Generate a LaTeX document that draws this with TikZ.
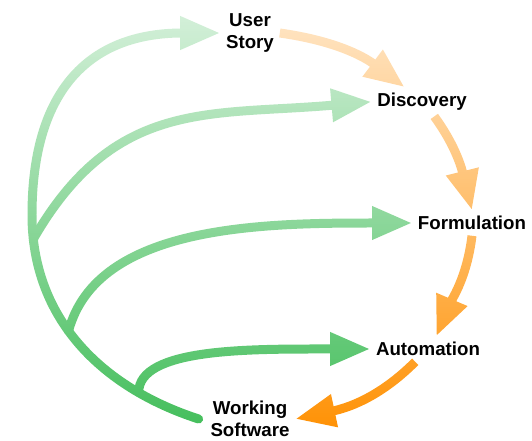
\documentclass[tikz,border=0pt]{standalone}
\usepackage{fontspec}
\setmainfont{Liberation Sans}
\usetikzlibrary{%
    arrows.meta,%
    backgrounds,%
    fadings%
}
\definecolor{leaf}{RGB}{64,189,88}
\definecolor{fire}{RGB}{255,144,0}
% white veil, strong at the top and gone at the bottom
\tikzfading[name=fade up, top color=transparent!20,
            bottom color=transparent!100]

\begin{document}
\begin{tikzpicture}[
    stage/.style={font={\fontsize{13.3}{16}\selectfont\bfseries},
        align=center,inner sep=4pt},
    flow/.style={line width=6.4pt,
        -{Triangle[length=1cm,width=0.78cm]}},
    sprout/.style={flow,draw=leaf,line cap=round},
    ripen/.style={flow,draw=fire},
    ]
    \useasboundingbox (0,0) rectangle (13.3,11.025);
    % Stages round the loop
    \node[stage] (story) at (6.25,10.2)  {User\\Story};
    \node[stage] (disc)  at (10.55,8.48) {Discovery};
    \node[stage] (form)  at (11.8,5.45)  {Formulation};
    \node[stage] (auto)  at (10.7,2.3)   {Automation};
    \node[stage] (work)  at (6.25,0.55)  {Working\\Software};
    \coordinate (bend) at (0.8,5.65);
    \begin{scope}[on background layer]
        % Green trunk, the forks are marked on it
        \draw[sprout] ([xshift=-1.5mm]work.west)
             .. controls +(162:2.575) and +(-90:2.575) ..
             coordinate[pos=0.22] (fork3)
             coordinate[pos=0.56] (fork2)
             coordinate[pos=0.92] (fork1) (bend)
             .. controls +(90:3.2) and +(180:3.2) .. (story.west);
        % Green branches
        \draw[sprout] (fork1)
             .. controls +(60:4.075) and +(185:4.075) .. (disc.west);
        \draw[sprout] (fork2)
             .. controls +(75:2.75) and +(180:3.75) .. (form.west);
        \draw[sprout] (fork3)
             .. controls +(90:1.125) and +(180:3) .. (auto.west);
        % Orange loop
        \draw[ripen] (story.east) to[out=-8,in=143] (disc.140);
        \draw[ripen] (disc.-50) to[out=-54,in=104] (form.north);
        \draw[ripen] (form.south) to[out=-97,in=67] (auto.57);
        \draw[ripen] (auto.-135) to[out=-135,in=12] (work.east);
        % Veil
        \fill[white,path fading=fade up] (0,0) rectangle (13.3,11.025);
    \end{scope}
\end{tikzpicture}
\end{document}
